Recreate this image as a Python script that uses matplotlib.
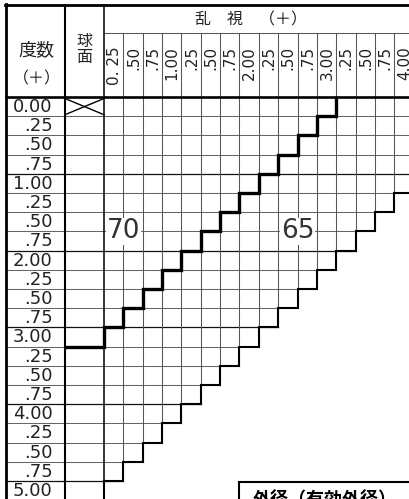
import matplotlib
matplotlib.use("Agg")
import matplotlib.pyplot as plt
from matplotlib.patches import Rectangle

plt.rcParams['font.family'] = ['DejaVu Sans', 'Noto Sans CJK JP']
CJK = ['Noto Sans CJK JP', 'DejaVu Sans']

# ---------------- data ----------------
sphere_values = [0.00, 0.25, 0.50, 0.75, 1.00, 1.25, 1.50, 1.75, 2.00, 2.25, 2.50,
                 2.75, 3.00, 3.25, 3.50, 3.75, 4.00, 4.25, 4.50, 4.75, 5.00]
sphere_labels = ["0.00", ".25", ".50", ".75", "1.00", ".25", ".50", ".75", "2.00", ".25", ".50",
                 ".75", "3.00", ".25", ".50", ".75", "4.00", ".25", ".50", ".75", "5.00"]
cyl_values = [0.25, 0.50, 0.75, 1.00, 1.25, 1.50, 1.75, 2.00,
              2.25, 2.50, 2.75, 3.00, 3.25, 3.50, 3.75, 4.00]
cyl_labels = ["0. 25", ".50", ".75", "1.00", ".25", ".50", ".75", "2.00",
              ".25", ".50", ".75", "3.00", ".25", ".50", ".75", "4.00"]
limit_70_65 = 3.00      # S + C boundary between zones 70 and 65
limit_table = 5.00      # S + C upper limit of the table
zone_labels = ["70", "65"]
zone_sphere = [1.625, 1.625]   # row position (sphere) of zone labels
zone_cyl = [0.375, 2.625]      # column position (cylinder) of zone labels

title_deg = "度数"
title_plus = "（＋）"
title_sph = "球\n面"
title_cyl = "乱　視　（＋）"
footer_text = "外径（有効外径）"

# ---------------- layout ----------------
W, H = 409, 499
X0, XD, XS = 6.0, 65.0, 104.0
CW = 19.35
Y0, YH, YD = 5.0, 33.0, 97.0
RH = 19.2
STEP = 0.25

def col_left(c):
    return XD if c == 0 else XS + (c / STEP - 1) * CW

def col_right(c):
    return XS + (c / STEP) * CW

def row_top(s):
    return YD + (s / STEP) * RH

def row_bot(s):
    return row_top(s) + RH

fig = plt.figure(figsize=(W / 100, H / 100), dpi=100)
ax = fig.add_axes([0, 0, 1, 1])
ax.set_xlim(0, W)
ax.set_ylim(H, 0)
ax.set_axis_off()

grid_kw = dict(color='#555555', lw=0.75, zorder=1)
all_cols = [0.0] + cyl_values

# horizontal grid lines (row boundaries)
for s in sphere_values:
    cmax = min(limit_table - s, cyl_values[-1])
    xr = col_right(cmax) if cmax > 0 else XS
    yb = row_bot(s)
    nxt = s + STEP
    dark = abs(nxt - round(nxt)) < 1e-9
    ax.plot([X0, xr], [yb, yb], color='#111111' if dark else '#666666',
            lw=0.9 if dark else 0.75, zorder=1)

# vertical grid lines (column boundaries of cylinder columns)
for c in cyl_values:
    ax.plot([col_right(c)] * 2, [YH, row_bot(limit_table - c)], **grid_kw)
ax.plot([col_right(cyl_values[-1]) + CW] * 2, [YH, H + 20], **grid_kw)

# header line between title and cylinder labels
ax.plot([XS, W + 10], [YH, YH], **grid_kw)

# strong frame lines
ax.plot([X0, X0], [Y0 - 1, H + 10], color='black', lw=2.0, zorder=3)
ax.plot([X0 - 1, W + 10], [Y0, Y0], color='black', lw=2.0, zorder=3)
ax.plot([X0, W + 10], [YD, YD], color='black', lw=1.9, zorder=3)
ax.plot([XD, XD], [Y0, H + 10], color='black', lw=1.5, zorder=3)
ax.plot([XS, XS], [Y0, H + 10], color='black', lw=1.1, zorder=3)

# cross in spherical 0.00 cell
ax.plot([XD, XS], [row_top(0) + 1.5, row_bot(0) - 1.5], color='black', lw=1.0, zorder=2)
ax.plot([XD, XS], [row_bot(0) - 1.5, row_top(0) + 1.5], color='black', lw=1.0, zorder=2)

def staircase(limit, cmax):
    xs, ys = [], []
    for c in all_cols:
        if c > cmax + 1e-9:
            break
        s = limit - c
        xs += [col_left(c), col_right(c)]
        ys += [row_bot(s), row_bot(s)]
        xs.append(col_right(c))
        ys.append(row_top(s))
    return xs, ys

xs, ys = staircase(limit_70_65, limit_70_65)
ax.plot(xs, ys, color='black', lw=2.4, solid_joinstyle='miter',
        solid_capstyle='butt', zorder=5)
xs, ys = staircase(limit_table, cyl_values[-1])
ax.plot(xs, ys, color='black', lw=1.5, solid_joinstyle='miter',
        solid_capstyle='projecting', zorder=4)

# row labels
for s, lab in zip(sphere_values, sphere_labels):
    ax.text(52.5, (row_top(s) + row_bot(s)) / 2 + 0.5, lab, ha='right', va='center',
            fontsize=13, color='#222222', zorder=6)

# column labels (rotated)
for c, lab in zip(cyl_values, cyl_labels):
    ax.text((col_left(c) + col_right(c)) / 2 + 0.5, 46, lab, rotation=90,
            ha='center', va='top', fontsize=11, color='#222222', zorder=6)

# header texts
ax.text(36.5, 50, title_deg, ha='center', va='center', fontsize=13,
        family=CJK, color='#222222')
ax.text(36.5, 78.5, title_plus, ha='center', va='center', fontsize=11.5,
        family=CJK, color='#222222')
ax.text(84.5, 49.5, title_sph, ha='center', va='center', fontsize=11.5,
        linespacing=0.95, family=CJK, color='#222222')
ax.text(251, 19.5, title_cyl, ha='center', va='center', fontsize=11.5,
        family=CJK, color='#222222')

# zone labels
for lab, s, c in zip(zone_labels, zone_sphere, zone_cyl):
    x = XS + (c / STEP - 0.5) * CW
    y = YD + (s / STEP + 0.5) * RH
    ax.text(x, y, lab, ha='center', va='center', fontsize=19, color='#333333',
            zorder=7, bbox=dict(facecolor='white', edgecolor='none', pad=0.5))

# footer box
ax.add_patch(Rectangle((239, 481.5), 200, 40, facecolor='white', edgecolor='black',
                       lw=1.5, zorder=8))
ax.text(253, 490, footer_text, ha='left', va='top', fontsize=13, fontweight='bold',
        family=CJK, color='black', zorder=9)

fig.savefig("out.png", dpi=100)
